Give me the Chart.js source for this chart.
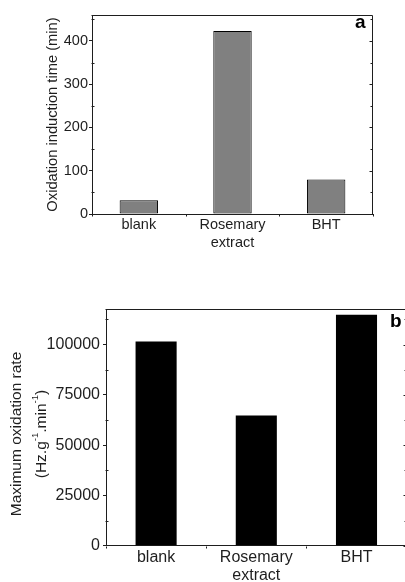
<!DOCTYPE html>
<html>
<head>
<meta charset="utf-8">
<script src="https://cdn.jsdelivr.net/npm/chart.js@4.4.1/dist/chart.umd.min.js"></script>
<style>
    html, body { margin: 0; padding: 0; background: #fff; width: 405px; height: 582px; overflow: hidden; }
    .panel { position: absolute; left: 0; }
    #panelA { top: 0; width: 405px; height: 260px; }
    #panelB { top: 290px; width: 412px; height: 292px; }
</style>
</head>
<body>
<div class="panel" id="panelA"><canvas id="inductionChart"></canvas></div>
<div class="panel" id="panelB"><canvas id="rateChart"></canvas></div>
<script>
const categories = [["blank"], ["Rosemary", "extract"], ["BHT"]];
const inductionTimes = [32, 423, 80];
const inductionTicks = [0, 100, 200, 300, 400];
const maxRates = [101500, 64700, 114800];
const rateTicks = [0, 25000, 50000, 75000, 100000];

const ink = "#1e1e1e";
const fontFamily = "'Liberation Sans', Arial, sans-serif";

// frame, inward ticks, panel letter and (optionally) a title with superscripts
const axisFrame = {
    id: "axisFrame",
    afterDraw(chart, args, opts) {
        const { ctx, chartArea, scales } = chart;
        const yScale = scales.y;
        const xScale = scales.x;
        const top = Math.round(chartArea.top) + 0.5;
        const right = Math.round(chartArea.right) - 0.5;
        const left = Math.round(chartArea.left) - 0.5;
        const bottom = Math.round(chartArea.bottom) + 0.5;

        ctx.save();
        ctx.strokeStyle = ink;
        ctx.lineWidth = 1;
        ctx.beginPath();
        ctx.moveTo(left, top);
        ctx.lineTo(right, top);
        ctx.lineTo(right, bottom);

        const majors = yScale.ticks.map((tick) => tick.value);
        const step = majors[1] - majors[0];
        majors.forEach((value) => {
            const py = Math.round(yScale.getPixelForValue(value)) + 0.5;
            ctx.moveTo(right, py);
            ctx.lineTo(right - 3, py);
            const minor = value + step / 2;
            if (minor < yScale.max) {
                const my = Math.round(yScale.getPixelForValue(minor)) + 0.5;
                ctx.moveTo(left, my);
                ctx.lineTo(left + 3, my);
                ctx.moveTo(right, my);
                ctx.lineTo(right - 2, my);
            }
        });

        for (let i = 0; i <= categories.length; i++) {
            const px = Math.round(xScale.getPixelForValue(i - 0.5)) + 0.5;
            ctx.moveTo(px, bottom);
            ctx.lineTo(px, bottom + 2);
        }
        ctx.stroke();

        ctx.fillStyle = "#000";
        ctx.font = `bold ${opts.letterSize}px ${fontFamily}`;
        ctx.textBaseline = "alphabetic";
        ctx.textAlign = "left";
        ctx.fillText(opts.letter, opts.letterX, opts.letterY);

        if (opts.titleLines) {
            drawRichTitle(ctx, opts, (chartArea.top + chartArea.bottom) / 2 + opts.titleShift);
        }
        ctx.restore();
    }
};

function drawRichTitle(ctx, opts, centreY) {
    opts.titleLines.forEach((line, index) => {
        const pieces = line.map((piece) => {
            const size = piece.sup ? opts.titleSize * 0.62 : opts.titleSize;
            ctx.font = `${size}px ${fontFamily}`;
            return { ...piece, size, width: ctx.measureText(piece.text).width };
        });
        const total = pieces.reduce((sum, piece) => sum + piece.width, 0);

        ctx.save();
        ctx.translate(opts.titleX[index], centreY);
        ctx.rotate(-Math.PI / 2);
        ctx.fillStyle = ink;
        ctx.textBaseline = "middle";
        ctx.textAlign = "left";
        let cursor = -total / 2;
        pieces.forEach((piece) => {
            ctx.font = `${piece.size}px ${fontFamily}`;
            ctx.fillText(piece.text, cursor, piece.sup ? -opts.titleSize * 0.42 : 0);
            cursor += piece.width;
        });
        ctx.restore();
    });
}

function buildBarChart(canvasId, settings) {
    return new Chart(document.getElementById(canvasId), {
        type: "bar",
        data: {
            labels: categories,
            datasets: [{
                data: settings.values,
                backgroundColor: settings.fill,
                borderColor: "#000",
                borderWidth: settings.barBorder,
                borderSkipped: false,
                barPercentage: 0.41,
                categoryPercentage: 1
            }]
        },
        plugins: [axisFrame],
        options: {
            responsive: true,
            maintainAspectRatio: false,
            animation: false,
            layout: { padding: settings.padding },
            plugins: {
                legend: { display: false },
                tooltip: { enabled: false },
                axisFrame: settings.frame
            },
            scales: {
                x: {
                    grid: { display: false, drawTicks: false, tickLength: 0 },
                    border: { color: ink, width: 1 },
                    ticks: {
                        color: ink,
                        padding: settings.xPadding,
                        maxRotation: 0,
                        font: { family: fontFamily, size: settings.fontSize, lineHeight: settings.xLineHeight }
                    },
                    afterFit(scale) {
                        scale.height = settings.xHeight;
                    }
                },
                y: {
                    min: 0,
                    max: settings.yMax,
                    afterBuildTicks(scale) {
                        scale.ticks = settings.ticks.map((value) => ({ value }));
                    },
                    grid: { drawOnChartArea: false, tickLength: 3, color: ink },
                    border: { color: ink, width: 1 },
                    ticks: {
                        color: ink,
                        padding: settings.yPadding,
                        font: { family: fontFamily, size: settings.fontSize },
                        callback: (value) => String(value)
                    },
                    title: settings.yTitle,
                    afterFit(scale) {
                        scale.width = settings.yWidth;
                    }
                }
            }
        }
    });
}

buildBarChart("inductionChart", {
    values: inductionTimes,
    ticks: inductionTicks,
    yMax: 460,
    fill: "#808080",
    barBorder: 1,
    fontSize: 14.5,
    xLineHeight: 1.25,
    xPadding: 2,
    xHeight: 46,
    yPadding: 1,
    yWidth: 92,
    padding: { top: 15, right: 32, left: 0, bottom: 0 },
    yTitle: {
        display: true,
        text: "Oxidation induction time (min)",
        color: ink,
        font: { family: fontFamily, size: 14.7 },
        padding: { top: 44, bottom: 0 }
    },
    frame: { letter: "a", letterSize: 19, letterX: 355, letterY: 28 }
});

buildBarChart("rateChart", {
    values: maxRates,
    ticks: rateTicks,
    yMax: 117500,
    fill: "#000",
    barBorder: 0,
    fontSize: 16,
    xLineHeight: 1.1,
    xPadding: 3,
    xHeight: 36.3,
    yPadding: 3,
    yWidth: 106,
    padding: { top: 19.3, right: 5.4, left: 0, bottom: 0 },
    yTitle: { display: false },
    frame: {
        letter: "b",
        letterSize: 19,
        letterX: 390,
        letterY: 36.7,
        titleSize: 15.5,
        titleX: [17, 42],
        titleShift: 6.5,
        titleLines: [
            [{ text: "Maximum oxidation rate" }],
            [
                { text: "(Hz.g" },
                { text: "-1", sup: true },
                { text: ".min" },
                { text: "-1", sup: true },
                { text: ")" }
            ]
        ]
    }
});
</script>
</body>
</html>
